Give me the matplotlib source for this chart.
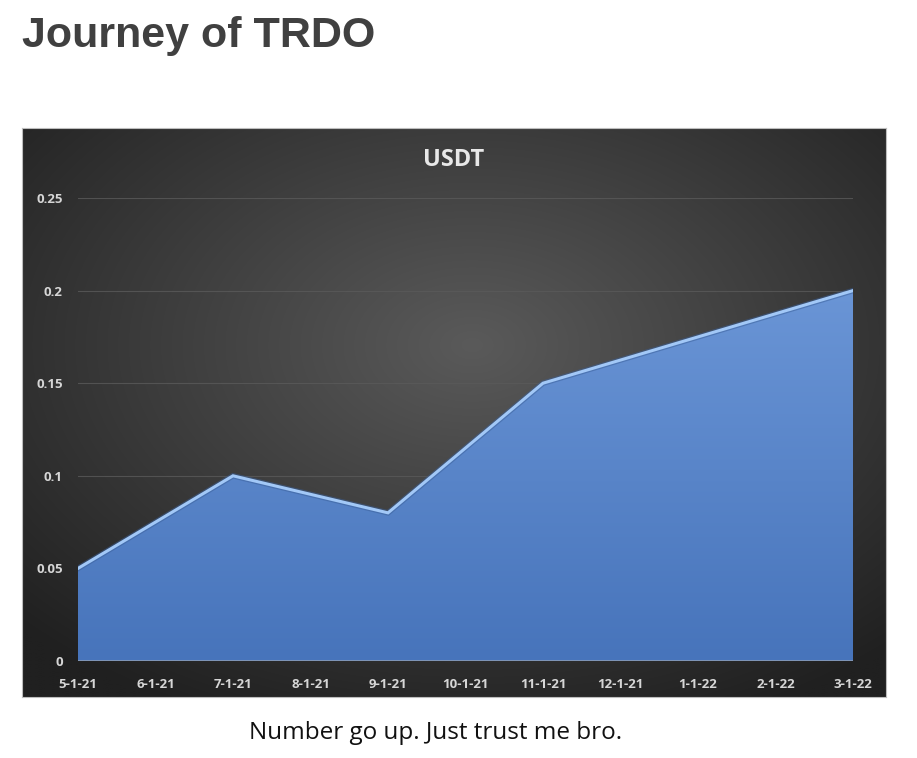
import numpy as np
import matplotlib
matplotlib.use("Agg")
import matplotlib.pyplot as plt
from matplotlib.patches import Polygon

dates = ["5-1-21", "6-1-21", "7-1-21", "8-1-21", "9-1-21", "10-1-21",
         "11-1-21", "12-1-21", "1-1-22", "2-1-22", "3-1-22"]
usdt = [0.05, 0.075, 0.10, 0.09, 0.08, 0.115, 0.15, 0.1625, 0.175, 0.1875, 0.20]
yticks = [0, 0.05, 0.1, 0.15, 0.2, 0.25]
ytick_labels = ["0", "0.05", "0.1", "0.15", "0.2", "0.25"]

W, H = 917, 758
fig = plt.figure(figsize=(W / 100, H / 100), dpi=100)
fig.patch.set_facecolor("white")

def rect(x0, y0, x1, y1):
    return [x0 / W, 1 - y1 / H, (x1 - x0) / W, (y1 - y0) / H]

# dark panel with radial gradient
bg = fig.add_axes(rect(22, 128, 886, 697))
ny, nx = 300, 460
yy, xx = np.mgrid[0:ny, 0:nx]
cx, cy = nx * 0.52, ny * 0.38
r = np.sqrt(((xx - cx) / nx) ** 2 + ((yy - cy) / ny) ** 2)
r = np.clip(r / 0.72, 0, 1)
c0 = np.array([0x5a, 0x5a, 0x5a]) / 255
c1 = np.array([0x20, 0x20, 0x20]) / 255
img = c0[None, None, :] * (1 - r[..., None]) + c1[None, None, :] * r[..., None]
bg.imshow(img, aspect="auto", extent=[0, 1, 0, 1], interpolation="bilinear")
bg.set_xlim(0, 1); bg.set_ylim(0, 1)
bg.set_xticks([]); bg.set_yticks([])
for s in bg.spines.values():
    s.set_color("#bdbdbd"); s.set_linewidth(0.8)
bg.text(0.5, (697 - 160) / (697 - 128), "USDT",
        transform=bg.transAxes,
        ha="center", va="center", fontsize=17, fontweight="bold",
        color="#e8e8e8", family="Open Sans")

# main plot area
ax = fig.add_axes(rect(78, 198, 853, 661))
ax.set_facecolor("none")
x = np.arange(len(dates))
ax.set_xlim(0, len(dates) - 1)
ax.set_ylim(0, 0.25)

for yt in yticks[1:]:
    ax.axhline(yt, color="#5a5a5a", lw=0.8, alpha=0.8, zorder=1)

# gradient fill clipped to area polygon
verts = [(0, 0)] + list(zip(x, usdt)) + [(x[-1], 0)]
poly = Polygon(verts, closed=True, facecolor="none", edgecolor="none")
ax.add_patch(poly)
grad = np.linspace(0, 1, 256)[:, None]
top = np.array([0x6a, 0x95, 0xd6]) / 255
bot = np.array([0x47, 0x74, 0xbb]) / 255
gimg = top[None, None, :] * (1 - grad[..., None]) + bot[None, None, :] * grad[..., None]
gimg = np.repeat(gimg, 2, axis=1)
im = ax.imshow(gimg, aspect="auto", extent=[0, x[-1], 0, 0.2], zorder=2,
               interpolation="bilinear")
im.set_clip_path(poly)

ax.plot(x, usdt, color="#3a5f99", lw=4.0, alpha=0.5, zorder=3,
        solid_joinstyle="miter")
ax.plot(x, usdt, color="#a2c8f7", lw=2.2, zorder=4, solid_joinstyle="miter")
ax.axhline(0, color="#8a9bb5", lw=1.2, zorder=4)

ax.set_xticks(x)
ax.set_xticklabels(dates)
ax.set_yticks(yticks)
ax.set_yticklabels(ytick_labels)
ax.tick_params(axis="both", length=0, colors="#d6d6d6", labelsize=9.5)
ax.tick_params(axis="x", pad=12)
ax.tick_params(axis="y", pad=11)
for lab in ax.get_xticklabels() + ax.get_yticklabels():
    lab.set_fontweight("bold")
    lab.set_family("Open Sans")
for s in ax.spines.values():
    s.set_visible(False)

fig.text(22 / W, 1 - 36 / H, "Journey of TRDO", ha="left", va="center",
         fontsize=31, fontweight="bold", color="#404040",
         family="Liberation Sans")
fig.text(436 / W, 1 - 733 / H, "Number go up. Just trust me bro.",
         ha="center", va="center", fontsize=17.5, color="#111111",
         family="Open Sans")

fig.savefig("out.png", dpi=100, facecolor="white")
